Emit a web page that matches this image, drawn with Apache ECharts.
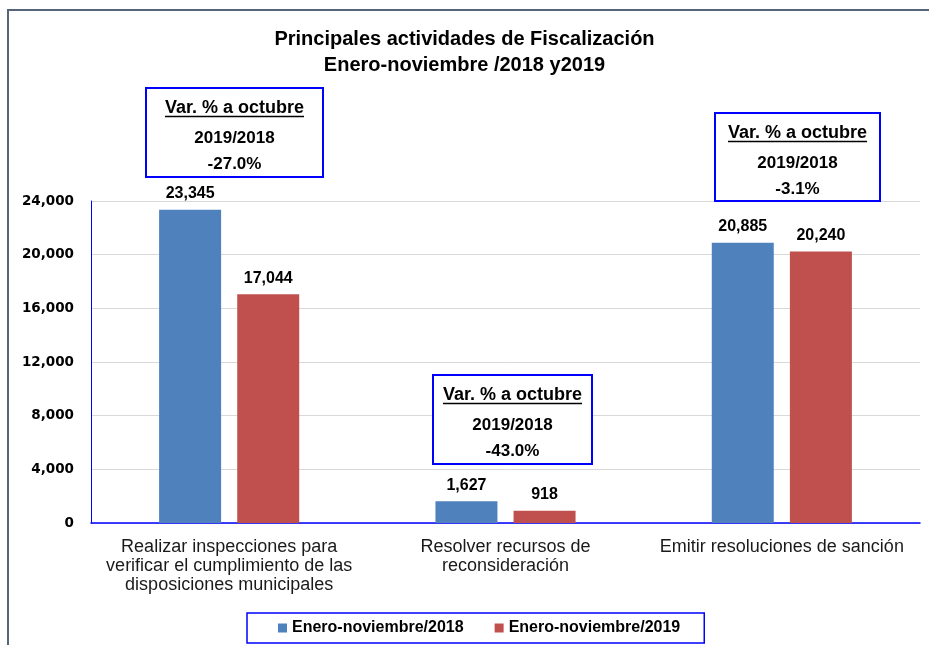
<!DOCTYPE html>
<html>
<head>
<meta charset="utf-8">
<script src="https://cdn.jsdelivr.net/npm/echarts@6/dist/echarts.min.js"></script>
<style>
  html, body { margin: 0; padding: 0; background: #fff; }
  #chart { width: 929px; height: 645px; }
</style>
</head>
<body>
<div id="chart"></div>
<script>
var categories = [
  'Realizar inspecciones para\nverificar el cumplimiento de las\ndisposiciones municipales',
  'Resolver recursos de\nreconsideración',
  'Emitir resoluciones de sanción'
]
var seriesNames = ['Enero-noviembre/2018', 'Enero-noviembre/2019']
var values2018 = [23345, 1627, 20885]
var values2019 = [17044, 918, 20240]
var varHeader = 'Var. % a octubre'
var varPeriod = '2019/2018'
var varValues = ['-27.0%', '-43.0%', '-3.1%']

var FONT = 'Liberation Sans, Arial, sans-serif'
var fmt = function (v) { return Number(v).toLocaleString('en-US') }

// cajas de variación (posición en px sobre el lienzo)
var boxes = [
  { x: 146, y: 88, w: 177, h: 89 },
  { x: 433, y: 375, w: 159, h: 89 },
  { x: 715, y: 113, w: 165, h: 88 }
]

var ctx = document.createElement('canvas').getContext('2d')
ctx.font = 'bold 18px ' + FONT
var headerW = ctx.measureText(varHeader).width

function boxGraphic(b, i) {
  var cx = b.x + b.w / 2
  return [
    { type: 'rect', z: 100, shape: { x: b.x, y: b.y, width: b.w, height: b.h },
      style: { fill: '#fff', stroke: null } },
    { type: 'text', z: 101, x: cx, y: b.y + 20,
      style: { text: varHeader, fill: '#000', font: 'bold 18px ' + FONT, align: 'center', verticalAlign: 'middle' } },
    { type: 'line', z: 101, shape: { x1: cx - headerW / 2, y1: b.y + 28.5, x2: cx + headerW / 2, y2: b.y + 28.5 },
      style: { stroke: '#000', lineWidth: 1.5 } },
    { type: 'text', z: 101, x: cx, y: b.y + 50,
      style: { text: varPeriod, fill: '#000', font: 'bold 17px ' + FONT, align: 'center', verticalAlign: 'middle' } },
    { type: 'text', z: 101, x: cx, y: b.y + 76,
      style: { text: varValues[i], fill: '#000', font: 'bold 17px ' + FONT, align: 'center', verticalAlign: 'middle' } },
    { type: 'polygon', z: 102,
      shape: { points: [[b.x, b.y], [b.x + b.w, b.y], [b.x + b.w, b.y + b.h], [b.x, b.y + b.h]] },
      style: { fill: null, stroke: '#0000ff', lineWidth: 2 } }
  ]
}

var chart = echarts.init(document.getElementById('chart'))

var barLabel = {
  show: true,
  position: 'top',
  distance: 8,
  color: '#000',
  fontFamily: FONT,
  fontWeight: 'bold',
  fontSize: 16,
  formatter: function (p) { return fmt(p.value) }
}

var graphics = [{
  type: 'polyline',
  z: 0,
  shape: { points: [[8, 700], [8, 10], [1000, 10]] },
  style: { stroke: '#56647a', lineWidth: 2, fill: null }
}]
boxes.forEach(function (b, i) { graphics = graphics.concat(boxGraphic(b, i)) })

chart.setOption({
  backgroundColor: '#fff',
  animation: false,
  title: {
    text: 'Principales actividades de Fiscalización\nEnero-noviembre /2018 y2019',
    left: 'center',
    top: 21,
    textStyle: {
      fontFamily: FONT,
      fontWeight: 'bold',
      fontSize: 20,
      lineHeight: 26,
      color: '#000'
    }
  },
  legend: {
    data: seriesNames,
    left: 247,
    top: 613,
    orient: 'horizontal',
    icon: 'rect',
    itemWidth: 9,
    itemHeight: 9,
    itemGap: 31,
    padding: [7, 24, 7, 31],
    borderColor: '#0000ff',
    borderWidth: 1.5,
    textStyle: {
      fontFamily: FONT,
      fontWeight: 'bold',
      fontSize: 16,
      color: '#000'
    }
  },
  grid: {
    left: 91,
    right: 9,
    top: 201,
    bottom: 122
  },
  xAxis: {
    type: 'category',
    data: categories,
    axisLine: { lineStyle: { color: '#0000ff', width: 1.5 } },
    axisTick: { show: false },
    axisLabel: {
      interval: 0,
      margin: 15,
      fontFamily: FONT,
      fontSize: 18,
      lineHeight: 19,
      color: '#1a1a1a'
    }
  },
  yAxis: {
    type: 'value',
    min: 0,
    max: 24000,
    interval: 4000,
    axisLine: { show: true, lineStyle: { color: '#0000ff', width: 1 } },
    axisTick: { show: false },
    splitLine: { lineStyle: { color: '#d9d9d9' } },
    axisLabel: {
      margin: 17,
      fontFamily: 'DejaVu Sans, sans-serif',
      fontWeight: 'bold',
      fontSize: 13.5,
      color: '#000',
      formatter: fmt
    }
  },
  series: [{
    name: seriesNames[0],
    type: 'bar',
    barWidth: 62,
    barGap: '26%',
    itemStyle: { color: '#4f81bd' },
    label: barLabel,
    data: values2018
  }, {
    name: seriesNames[1],
    type: 'bar',
    barWidth: 62,
    itemStyle: { color: '#c0504d' },
    label: barLabel,
    data: values2019
  }],
  graphic: graphics
})
</script>
</body>
</html>
